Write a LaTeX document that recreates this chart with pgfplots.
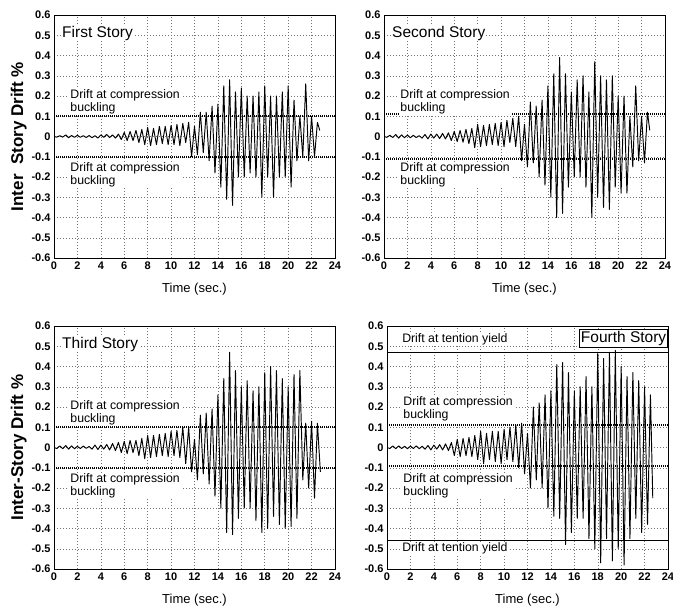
\documentclass[border=0pt]{standalone}
\usepackage{pgfplots}
\pgfplotsset{compat=1.18}
\usepackage{fontspec}
\setmainfont{Liberation Sans}
\pgfplotsset{
  panel/.style={
    scale only axis, width=281pt, height=243pt,
    xmin=0, xmax=24, ymin=-0.6, ymax=0.6,
    xtick={0,2,4,6,8,10,12,14,16,18,20,22,24},
    ytick={-0.6,-0.5,-0.4,-0.3,-0.2,-0.1,0,0.1,0.2,0.3,0.4,0.5,0.6},
    yticklabels={-0.6,-0.5,-0.4,-0.3,-0.2,-0.1,0,0.1,0.2,0.3,0.4,0.5,0.6},
    major tick length=0pt,
    grid=major,
    major grid style={dash pattern=on 1.2pt off 1.8pt, black!55, line width=0.5pt},
    axis line style={black, line width=0.8pt},
    tick label style={font=\fontsize{11}{13}\selectfont\bfseries},
    /pgf/number format/assume math mode=true,
    xlabel={Time (sec.)},
    xlabel style={font=\fontsize{13}{15}\selectfont, yshift=-7pt},
    ylabel style={font=\fontsize{17}{19}\selectfont\bfseries, yshift=-2pt},
    clip=true,
  },
}
\tikzset{
  sig/.style={black, line width=0.95pt, line join=round},
  buck/.style={black, line width=1.6pt, dash pattern=on 1.2pt off 0.8pt},
  lab/.style={fill=white, inner sep=1pt, anchor=west, align=left, font=\fontsize{12.3}{13}\selectfont},
  ttl/.style={fill=white, inner sep=1pt, anchor=west, font=\fontsize{15.5}{17}\selectfont},
}
\begin{document}
\begin{tikzpicture}[x=1pt,y=1pt]
\useasboundingbox (0,0) rectangle (673,-614);

% ---------- First story ----------
\begin{axis}[panel, at={(54pt,-258pt)}, anchor=south west, ylabel={Inter\ \ Story Drift \%}]
\addplot[buck] coordinates {(0,0.1) (24,0.1)};
\addplot[buck] coordinates {(0,-0.1) (24,-0.1)};
\addplot[sig] coordinates {
(0,0) (0.25,-0.003) (0.5,0.004) (0.75,-0.003) (1,0.008) (1.25,-0.006) (1.5,0.005) (1.75,-0.004)
(2,0.006) (2.25,-0.004) (2.5,0.004) (2.75,-0.005) (3,0.005) (3.25,-0.006) (3.5,0.004) (3.75,-0.008)
(4,0.008) (4.25,-0.004) (4.5,0.01) (4.75,-0.005) (5,0.008) (5.25,-0.008) (5.5,0.012) (5.75,-0.015)
(6,0.02) (6.25,-0.02) (6.5,0.025) (6.75,-0.02) (7,0.03) (7.25,-0.03) (7.5,0.035) (7.75,-0.04)
(8,0.045) (8.25,-0.045) (8.5,0.04) (8.75,-0.04) (9,0.05) (9.25,-0.035) (9.5,0.05) (9.75,-0.04)
(10,0.055) (10.25,-0.04) (10.5,0.06) (10.75,-0.045) (11,0.065) (11.25,-0.03) (11.5,0.07) (11.75,-0.1)
(12,0.05) (12.25,-0.09) (12.5,0.12) (12.75,-0.08) (13,0.12) (13.25,-0.12) (13.5,0.15) (13.75,-0.18)
(14,0.16) (14.25,-0.25) (14.5,0.25) (14.75,-0.31) (15,0.28) (15.25,-0.34) (15.5,0.22) (15.75,-0.2)
(16,0.24) (16.25,-0.2) (16.5,0.2) (16.75,-0.18) (17,0.2) (17.25,-0.2) (17.5,0.22) (17.75,-0.3)
(18,0.25) (18.25,-0.2) (18.5,0.2) (18.75,-0.3) (19,0.2) (19.25,-0.2) (19.5,0.22) (19.75,-0.2)
(20,0.25) (20.25,-0.25) (20.5,0.18) (20.75,-0.12) (21,0.1) (21.25,-0.1) (21.5,0.26) (21.75,-0.12)
(22,0.1) (22.25,-0.1) (22.5,0.07) (22.7,0.03)
};
\node[ttl] at (axis cs:0.6,0.51) {First Story};
\node[lab] at (axis cs:1.3,0.172) {Drift at compression\\buckling};
\node[lab] at (axis cs:1.3,-0.19) {Drift at compression\\buckling};
\end{axis}

% ---------- Second story ----------
\begin{axis}[panel, at={(384pt,-258pt)}, anchor=south west]
\addplot[buck] coordinates {(0,0.11) (24,0.11)};
\addplot[buck] coordinates {(0,-0.11) (24,-0.11)};
\addplot[sig] coordinates {
(0,0) (0.25,-0.004) (0.5,0.006) (0.75,-0.005) (1,0.01) (1.25,-0.008) (1.5,0.008) (1.75,-0.006)
(2,0.007) (2.25,-0.006) (2.5,0.006) (2.75,-0.005) (3,0.004) (3.25,-0.008) (3.5,0.01) (3.75,-0.012)
(4,0.012) (4.25,-0.008) (4.5,0.012) (4.75,-0.01) (5,0.015) (5.25,-0.012) (5.5,0.018) (5.75,-0.02)
(6,0.025) (6.25,-0.025) (6.5,0.03) (6.75,-0.028) (7,0.035) (7.25,-0.035) (7.5,0.04) (7.75,-0.055)
(8,0.06) (8.25,-0.05) (8.5,0.055) (8.75,-0.045) (9,0.06) (9.25,-0.04) (9.5,0.065) (9.75,-0.045)
(10,0.07) (10.25,-0.05) (10.5,0.08) (10.75,-0.03) (11,0.09) (11.25,-0.05) (11.5,0.1) (11.75,-0.12)
(12,0.06) (12.25,-0.15) (12.5,0.17) (12.75,-0.13) (13,0.15) (13.25,-0.2) (13.5,0.18) (13.75,-0.24)
(14,0.25) (14.25,-0.3) (14.5,0.31) (14.75,-0.4) (15,0.39) (15.25,-0.38) (15.5,0.31) (15.75,-0.25)
(16,0.22) (16.25,-0.2) (16.5,0.28) (16.75,-0.2) (17,0.3) (17.25,-0.25) (17.5,0.22) (17.75,-0.4)
(18,0.37) (18.25,-0.3) (18.5,0.3) (18.75,-0.35) (19,0.28) (19.25,-0.36) (19.5,0.3) (19.75,-0.25)
(20,0.2) (20.25,-0.28) (20.5,0.2) (20.75,-0.28) (21,0.1) (21.25,-0.15) (21.5,0.25) (21.75,-0.12)
(22,0.1) (22.25,-0.13) (22.5,0.12) (22.7,0.03)
};
\node[ttl] at (axis cs:0.6,0.51) {Second Story};
\node[lab] at (axis cs:1.3,0.172) {Drift at compression\\buckling};
\node[lab] at (axis cs:1.3,-0.19) {Drift at compression\\buckling};
\end{axis}

% ---------- Third story ----------
\begin{axis}[panel, at={(54pt,-569pt)}, anchor=south west, ylabel={Inter-Story Drift \%}]
\addplot[buck] coordinates {(0,0.1) (24,0.1)};
\addplot[buck] coordinates {(0,-0.1) (24,-0.1)};
\addplot[sig] coordinates {
(0,0) (0.25,-0.005) (0.5,0.008) (0.75,-0.006) (1,0.01) (1.25,-0.008) (1.5,0.008) (1.75,-0.006)
(2,0.006) (2.25,-0.005) (2.5,0.007) (2.75,-0.004) (3,0.005) (3.25,-0.008) (3.5,0.012) (3.75,-0.01)
(4,0.012) (4.25,-0.008) (4.5,0.015) (4.75,-0.012) (5,0.02) (5.25,-0.015) (5.5,0.025) (5.75,-0.025)
(6,0.03) (6.25,-0.03) (6.5,0.035) (6.75,-0.025) (7,0.035) (7.25,-0.04) (7.5,0.045) (7.75,-0.055)
(8,0.06) (8.25,-0.05) (8.5,0.06) (8.75,-0.045) (9,0.065) (9.25,-0.04) (9.5,0.07) (9.75,-0.045)
(10,0.08) (10.25,-0.04) (10.5,0.085) (10.75,-0.05) (11,0.1) (11.25,-0.08) (11.5,0.1) (11.75,-0.12)
(12,0.04) (12.25,-0.16) (12.5,0.16) (12.75,-0.13) (13,0.17) (13.25,-0.18) (13.5,0.19) (13.75,-0.24)
(14,0.26) (14.25,-0.3) (14.5,0.34) (14.75,-0.42) (15,0.47) (15.25,-0.43) (15.5,0.38) (15.75,-0.35)
(16,0.3) (16.25,-0.3) (16.5,0.33) (16.75,-0.3) (17,0.28) (17.25,-0.36) (17.5,0.3) (17.75,-0.42)
(18,0.37) (18.25,-0.4) (18.5,0.4) (18.75,-0.34) (19,0.38) (19.25,-0.38) (19.5,0.34) (19.75,-0.4)
(20,0.3) (20.25,-0.39) (20.5,0.36) (20.75,-0.35) (21,0.38) (21.25,-0.16) (21.5,0.12) (21.75,-0.2)
(22,0.13) (22.25,-0.25) (22.5,0.12) (22.75,-0.12)
};
\node[ttl] at (axis cs:0.6,0.51) {Third Story};
\node[lab] at (axis cs:1.3,0.172) {Drift at compression\\buckling};
\node[lab] at (axis cs:1.3,-0.19) {Drift at compression\\buckling};
\end{axis}

% ---------- Fourth story ----------
\begin{axis}[panel, at={(387pt,-569pt)}, anchor=south west]
\addplot[buck] coordinates {(0,0.11) (24,0.11)};
\addplot[buck] coordinates {(0,-0.09) (24,-0.09)};
\addplot[black, line width=1.1pt] coordinates {(0,0.47) (24,0.47)};
\addplot[black, line width=1.1pt] coordinates {(0,-0.46) (24,-0.46)};
\addplot[sig] coordinates {
(0,0) (0.25,-0.005) (0.5,0.008) (0.75,-0.006) (1,0.008) (1.25,-0.005) (1.5,0.006) (1.75,-0.006)
(2,0.007) (2.25,-0.005) (2.5,0.008) (2.75,-0.006) (3,0.006) (3.25,-0.008) (3.5,0.01) (3.75,-0.012)
(4,0.012) (4.25,-0.008) (4.5,0.014) (4.75,-0.012) (5,0.018) (5.25,-0.015) (5.5,0.025) (5.75,-0.04)
(6,0.04) (6.25,-0.045) (6.5,0.045) (6.75,-0.04) (7,0.05) (7.25,-0.045) (7.5,0.06) (7.75,-0.06)
(8,0.08) (8.25,-0.08) (8.5,0.07) (8.75,-0.06) (9,0.08) (9.25,-0.07) (9.5,0.08) (9.75,-0.08)
(10,0.09) (10.25,-0.06) (10.5,0.1) (10.75,-0.07) (11,0.11) (11.25,-0.1) (11.5,0.12) (11.75,-0.13)
(12,0.07) (12.25,-0.2) (12.5,0.2) (12.75,-0.16) (13,0.22) (13.25,-0.2) (13.5,0.26) (13.75,-0.3)
(14,0.28) (14.25,-0.34) (14.5,0.41) (14.75,-0.35) (15,0.42) (15.25,-0.48) (15.5,0.37) (15.75,-0.42)
(16,0.28) (16.25,-0.35) (16.5,0.3) (16.75,-0.35) (17,0.35) (17.25,-0.45) (17.5,0.3) (17.75,-0.5)
(18,0.47) (18.25,-0.57) (18.5,0.44) (18.75,-0.45) (19,0.47) (19.25,-0.56) (19.5,0.48) (19.75,-0.5)
(20,0.4) (20.25,-0.58) (20.5,0.35) (20.75,-0.45) (21,0.37) (21.25,-0.35) (21.5,0.33) (21.75,-0.42)
(22,0.3) (22.25,-0.38) (22.5,0.26) (22.7,-0.25)
};
\node[ttl, anchor=east, draw=black, line width=0.6pt, inner sep=1.5pt] at (axis cs:24,0.54) {Fourth Story};
\node[lab] at (axis cs:1.2,0.535) {Drift at tention yield};
\node[lab] at (axis cs:1.2,-0.50) {Drift at tention yield};
\node[lab] at (axis cs:1.3,0.19) {Drift at compression\\buckling};
\node[lab] at (axis cs:1.3,-0.19) {Drift at compression\\buckling};
\end{axis}
\end{tikzpicture}
\end{document}
